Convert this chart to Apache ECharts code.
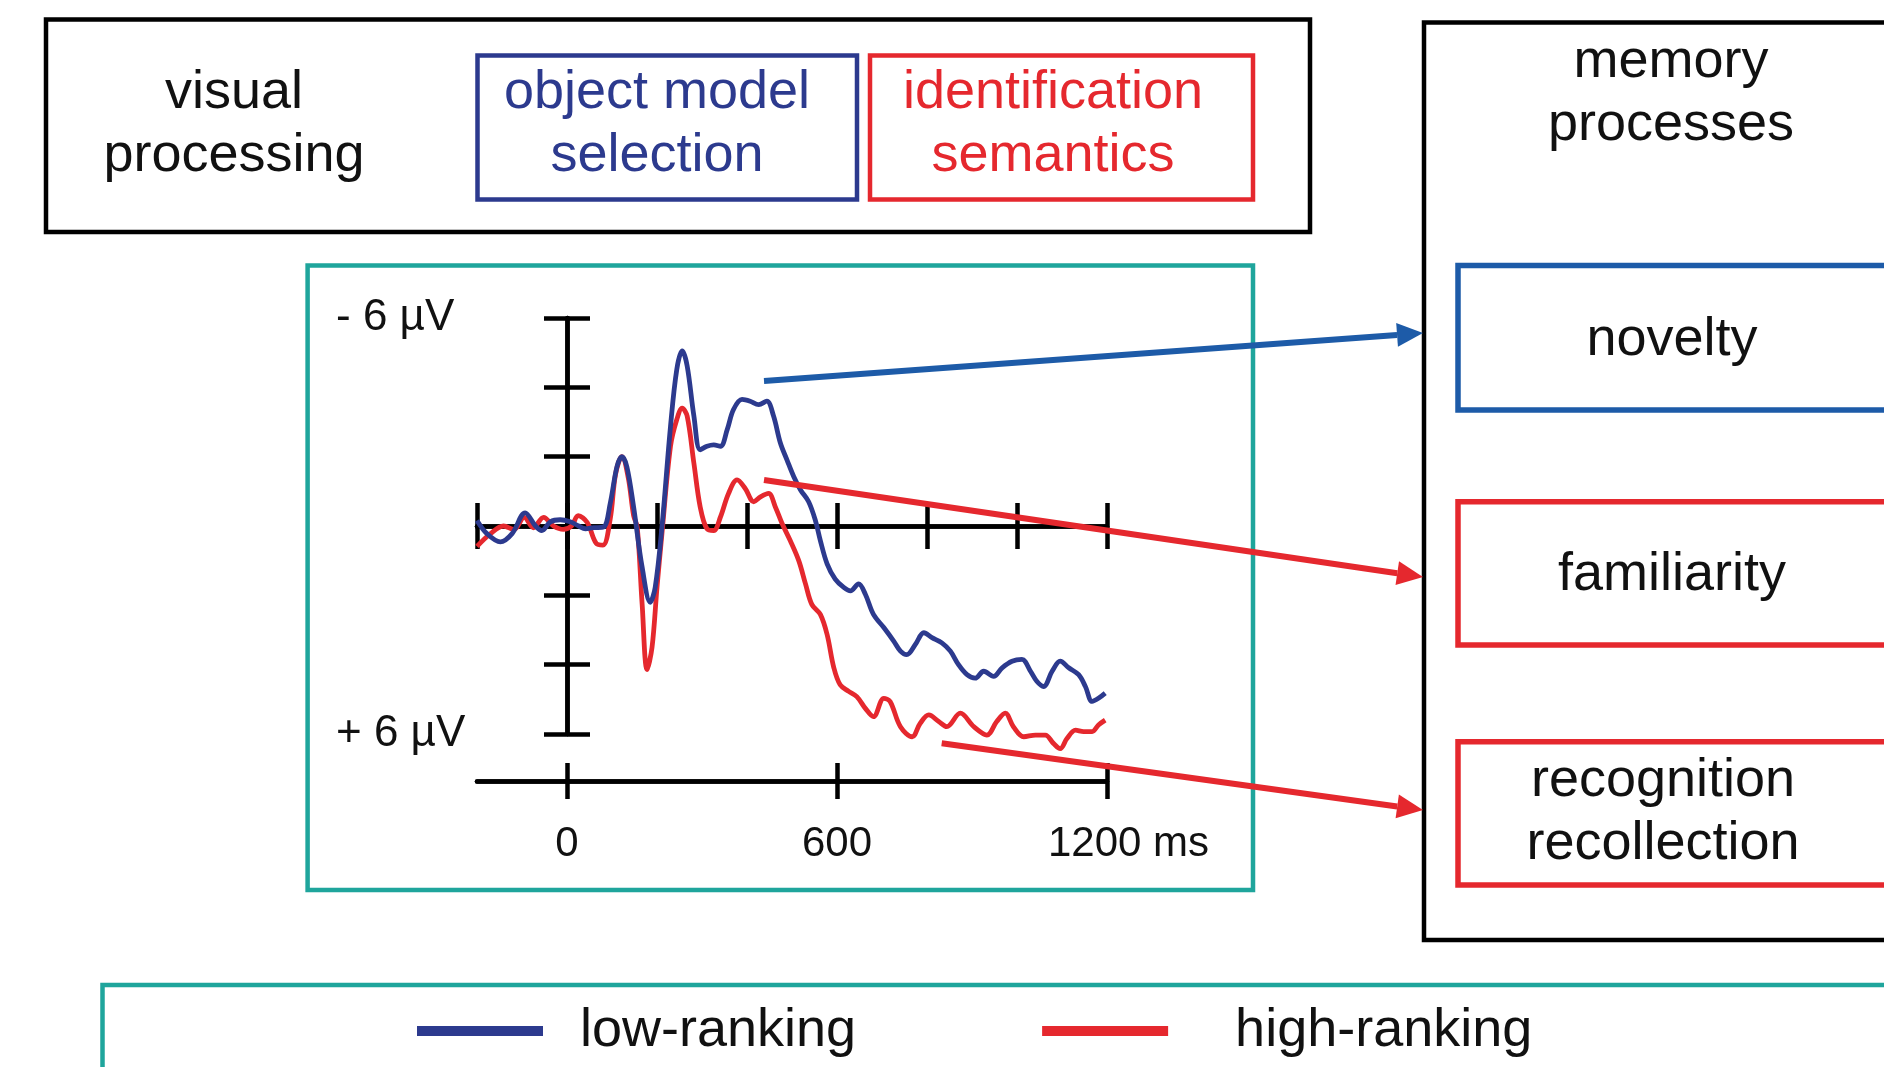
<!DOCTYPE html>
<html>
<head>
<meta charset="utf-8">
<script src="https://cdn.jsdelivr.net/npm/echarts@6/dist/echarts.min.js"></script>
<style>
html,body{margin:0;padding:0;background:#fff;}
#c{width:1884px;height:1067px;}
</style>
</head>
<body>
<div id="c"></div>
<script>
// ---- data (ms, µV; negative up) ----
const blueTimes = [-200,-178,-148,-122,-93,-70,-56,-37,-15,7,26,41,59,81,96,111,122,133,148,167,185,196,211,230,244,256,267,282,296,311,326,341,356,370,389,407,426,444,459,474,489,504,519,537,552,563,578,596,615,630,648,663,681,704,726,741,755,774,793,811,833,852,870,889,907,926,948,967,989,1011,1030,1044,1059,1078,1096,1115,1137,1152,1167,1181,1196];
const blueUv = [-0.16,0.22,0.46,0.22,-0.38,0.0,0.13,-0.12,-0.18,-0.12,0.0,0.08,0.05,0.03,-0.65,-1.71,-2.0,-1.71,-0.55,1.19,2.2,1.77,0.03,-2.87,-4.52,-5.05,-4.62,-3.17,-2.2,-2.3,-2.34,-2.3,-2.78,-3.36,-3.65,-3.6,-3.5,-3.6,-3.17,-2.4,-1.9,-1.42,-1.04,-0.7,-0.16,0.42,1.09,1.53,1.77,1.87,1.67,1.97,2.55,2.93,3.32,3.61,3.71,3.42,3.08,3.22,3.37,3.61,4.0,4.29,4.39,4.19,4.34,4.09,3.9,3.85,4.19,4.48,4.63,4.19,3.9,4.09,4.29,4.63,5.06,4.97,4.82];
const redTimes = [-200,-170,-141,-118,-95,-75,-52,-30,-8,10,25,45,65,80,96,108,122,136,148,156,167,178,189,200,211,230,244,256,267,282,296,311,326,341,359,378,396,415,430,448,463,478,496,515,530,544,563,578,593,607,626,644,663,681,704,718,741,767,785,804,826,844,874,904,933,955,974,992,1015,1041,1063,1081,1096,1111,1130,1148,1167,1181,1196];
const redUv = [0.59,0.22,0.0,0.1,-0.25,0.05,-0.25,0.0,0.1,0.0,-0.3,-0.1,0.5,0.55,-0.2,-1.5,-2.0,-1.4,-0.3,0.03,2.26,4.14,3.5,1.77,0.22,-2.3,-3.07,-3.4,-3.17,-1.81,-0.55,0.08,0.13,-0.26,-0.94,-1.33,-1.08,-0.7,-0.84,-0.94,-0.55,-0.07,0.42,1.0,1.67,2.26,2.55,3.13,4.09,4.58,4.77,4.92,5.26,5.5,4.97,5.06,5.79,6.08,5.69,5.45,5.64,5.79,5.4,5.79,6.03,5.64,5.4,5.79,6.08,6.03,6.03,6.27,6.42,6.13,5.89,5.93,5.93,5.74,5.6];
const seriesNames = ['low-ranking','high-ranking'];
const yTicks = [-6,-4,-2,0,2,4,6];
const yLabelValues = [-6,6];
const zeroLineTicks = [-200,0,200,400,600,800,1000,1200];
const timeAxisTicks = [0,600,1200];

const BLUE = '#2c3a8e', RED = '#e5282e', TEAL = '#1fa59c', ARROWBLUE = '#1d5ba8';
const FONT = '"Liberation Sans", Arial, sans-serif';

function pairs(t, v){ return t.map((x,i)=>[x, v[i]]); }

const chart = echarts.init(document.getElementById('c'), null, {renderer:'canvas'});

const axisLineStyle = {color:'#000', width:4.5};
const tickStyle = {color:'#000', width:4.5};

function arrow(x1,y1,x2,y2,color){
  const L=26, W=12;
  const a=Math.atan2(y2-y1,x2-x1);
  const bx=x2-L*Math.cos(a), by=y2-L*Math.sin(a);
  const px=-Math.sin(a)*W, py=Math.cos(a)*W;
  return [
    {type:'line', shape:{x1:x1,y1:y1,x2:bx,y2:by}, style:{stroke:color, lineWidth:6}, z:10},
    {type:'polygon', shape:{points:[[x2,y2],[bx+px,by+py],[bx-px,by-py]]}, style:{fill:color}, z:10}
  ];
}
function txt(x,y,text,color){
  return {type:'text', x:x, y:y, style:{text:text, fill:color||'#111', font:'54px ' + FONT, align:'center', verticalAlign:'middle', lineHeight:63}, z:5};
}
function box(x,y,w,h,color,lw){
  return {type:'rect', shape:{x:x,y:y,width:w,height:h}, style:{fill:null, stroke:color, lineWidth:lw||4.5}, z:4};
}

const graphics = [
  box(46,19.5,1264,212.5,'#000'),
  box(477.5,55.5,379.5,144,BLUE),
  box(870,55.5,383,144,RED),
  txt(234,125,'visual\nprocessing'),
  txt(657,125,'object model\nselection',BLUE),
  txt(1053,125,'identification\nsemantics',RED),
  box(1424,22.5,700,917.5,'#000'),
  txt(1671,94,'memory\nprocesses'),
  box(1458,265.5,700,144.5,ARROWBLUE,5.5),
  txt(1672,340,'novelty'),
  box(1458,501.7,700,143.3,RED,5.5),
  txt(1672,575,'familiarity'),
  box(1458,741.7,700,143.3,RED,5.5),
  txt(1663,813,'recognition\nrecollection'),
  box(307.6,265.5,945.4,624.5,TEAL,4.5),
  box(102.5,985,2000,200,TEAL,4.5)
].concat(arrow(764,381,1423,333,ARROWBLUE), arrow(764,480,1423,577,RED), arrow(941.7,743.3,1423,810,RED));

const option = {
  backgroundColor:'#fff',
  animation:false,
  grid:{left:477, top:318, width:630, height:416, containLabel:false, outerBoundsMode:'none'},
  legend:{
    data:[
      {name:seriesNames[0]},
      {name:seriesNames[1], textStyle:{padding:[0,0,0,62]}}
    ],
    left:417, top:999, padding:0, icon:'rect',
    itemWidth:126, itemHeight:10, itemGap:186,
    textStyle:{fontSize:54, fontFamily:FONT, color:'#111', lineHeight:64, padding:[0,0,0,32]}
  },
  xAxis:[
    {type:'value', min:-200, max:1200, position:'bottom',
     axisLine:{show:true, onZero:true, onZeroAxisIndex:0, lineStyle:axisLineStyle},
     axisTick:{show:true, length:23, customValues:zeroLineTicks, lineStyle:tickStyle},
     axisLabel:{show:false}, splitLine:{show:false}},
    {type:'value', min:-200, max:1200, position:'top',
     axisLine:{show:true, onZero:true, onZeroAxisIndex:0, lineStyle:axisLineStyle},
     axisTick:{show:true, length:23, customValues:zeroLineTicks, lineStyle:tickStyle},
     axisLabel:{show:false}, splitLine:{show:false}},
    {type:'value', min:-200, max:1200, position:'bottom', offset:47,
     axisLine:{show:true, onZero:false, lineStyle:axisLineStyle},
     axisTick:{show:true, length:18, customValues:timeAxisTicks, lineStyle:tickStyle},
     axisLabel:{show:true, customValues:timeAxisTicks, margin:42, fontSize:42, lineHeight:42, fontFamily:FONT, color:'#111',
       formatter:function(v){ return v===1200 ? '{a|1200 ms}' : String(v); },
       rich:{a:{fontSize:42, fontFamily:FONT, color:'#111', padding:[0,0,0,43]}}},
     splitLine:{show:false}},
    {type:'value', min:-200, max:1200, position:'bottom', offset:47,
     axisLine:{show:true, onZero:false, lineStyle:axisLineStyle},
     axisTick:{show:true, inside:true, length:18, customValues:timeAxisTicks, lineStyle:tickStyle},
     axisLabel:{show:false}, splitLine:{show:false}}
  ],
  yAxis:[
    {type:'value', min:-6, max:6, inverse:true, position:'left',
     axisLine:{show:true, onZero:true, onZeroAxisIndex:0, lineStyle:axisLineStyle},
     axisTick:{show:true, length:23, customValues:yTicks, lineStyle:tickStyle},
     axisLabel:{show:true, customValues:yLabelValues, margin:141, align:'left', fontSize:44, fontFamily:FONT, color:'#111', padding:[0,0,12,0],
       formatter:function(v){ return v<0 ? '- 6 µV' : '+ 6 µV'; }},
     splitLine:{show:false}},
    {type:'value', min:-6, max:6, inverse:true, position:'right',
     axisLine:{show:true, onZero:true, onZeroAxisIndex:0, lineStyle:axisLineStyle},
     axisTick:{show:true, length:23, customValues:yTicks, lineStyle:tickStyle},
     axisLabel:{show:false}, splitLine:{show:false}}
  ],
  series:[
    {name:'high-ranking', type:'line', xAxisIndex:0, yAxisIndex:0, data:pairs(redTimes, redUv),
     showSymbol:false, symbol:'none', smooth:0.35, clip:false, color:RED, lineStyle:{color:RED, width:4.8}, z:3},
    {name:'low-ranking', type:'line', xAxisIndex:0, yAxisIndex:0, data:pairs(blueTimes, blueUv),
     showSymbol:false, symbol:'none', smooth:0.35, clip:false, color:BLUE, lineStyle:{color:BLUE, width:4.8}, z:4}
  ],
  graphic:{elements:graphics}
};
chart.setOption(option);
</script>
</body>
</html>
